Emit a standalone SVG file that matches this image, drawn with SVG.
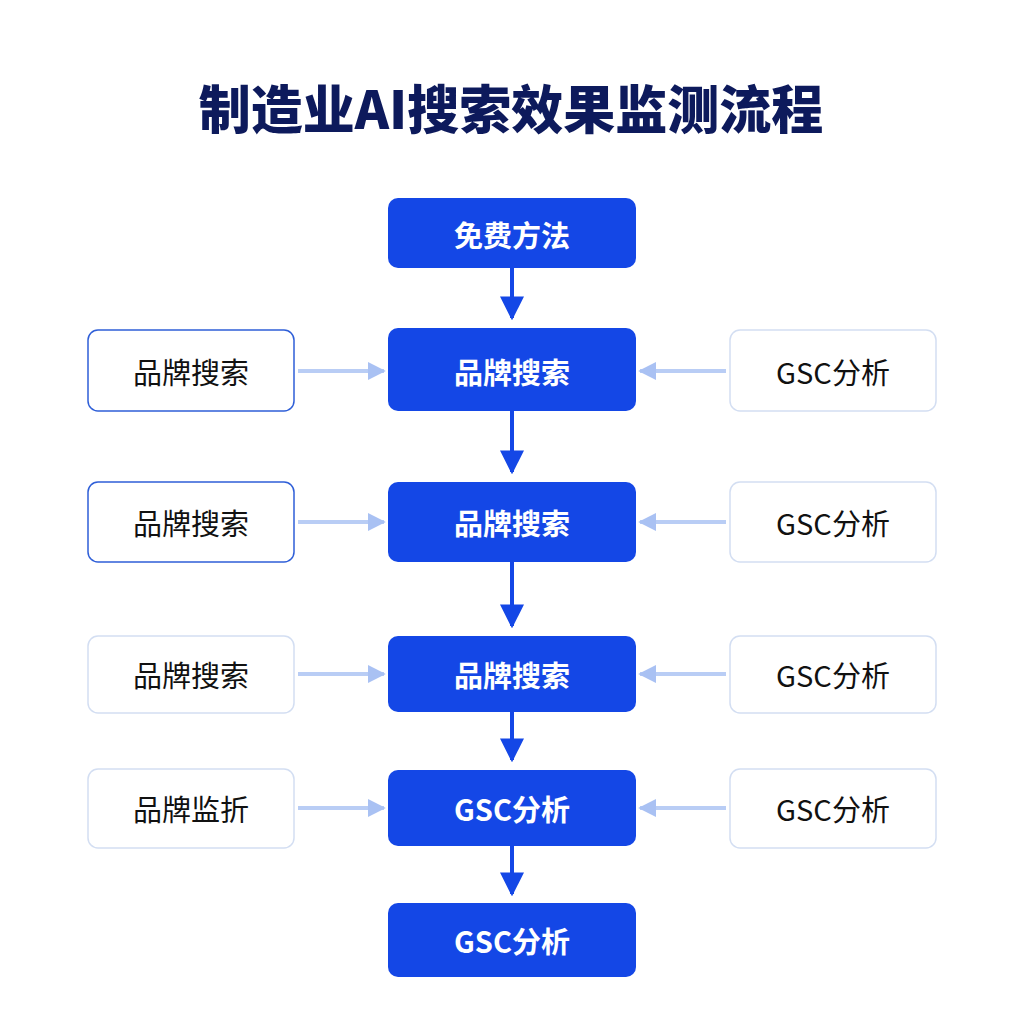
<svg xmlns="http://www.w3.org/2000/svg" width="1024" height="1024" viewBox="0 0 1024 1024">
<defs>
<style>
.c{fill:#1447e6;}
.s{fill:#fff;stroke:#d3def2;stroke-width:1.5;}
.sb{fill:#fff;stroke:#2f5fd8;stroke-width:1.5;}
.ct{font-family:"Noto Sans CJK SC","Noto Sans",sans-serif;font-weight:700;font-size:29px;fill:#fff;text-anchor:middle;dominant-baseline:central;}
.st{font-family:"Noto Sans CJK SC","Noto Sans",sans-serif;font-size:29px;fill:#111;text-anchor:middle;dominant-baseline:central;}
.v{stroke:#1447e6;stroke-width:4;fill:none;}
.h{stroke:#b9cdf5;stroke-width:4;fill:none;}
</style>
<marker id="av" viewBox="0 0 10 10" refX="9" refY="5" markerWidth="6" markerHeight="6" markerUnits="strokeWidth" orient="auto"><path d="M0,0L10,5L0,10z" fill="#1447e6"/></marker>
<marker id="ah" viewBox="0 0 10 10" refX="9" refY="5" markerWidth="4.5" markerHeight="4.5" markerUnits="strokeWidth" orient="auto"><path d="M0,0L10,5L0,10z" fill="#a9c1f3"/></marker>
</defs>
<rect width="1024" height="1024" fill="#fff"/>
<text x="511" y="106" font-family="Noto Sans CJK SC,sans-serif" font-weight="900" font-size="52" fill="#0d1a5c" text-anchor="middle" dominant-baseline="central">制造业AI搜索效果监测流程</text>
<g id="connectors">
<path class="v" d="M512 268V318" marker-end="url(#av)"/>
<path class="v" d="M512 411V472" marker-end="url(#av)"/>
<path class="v" d="M512 562V626" marker-end="url(#av)"/>
<path class="v" d="M512 712V760" marker-end="url(#av)"/>
<path class="v" d="M512 846V894" marker-end="url(#av)"/>
<path class="h" d="M298 371H384" marker-end="url(#ah)"/>
<path class="h" d="M298 522H384" marker-end="url(#ah)"/>
<path class="h" d="M298 674H384" marker-end="url(#ah)"/>
<path class="h" d="M298 808H384" marker-end="url(#ah)"/>
<path class="h" d="M726 371H640" marker-end="url(#ah)"/>
<path class="h" d="M726 522H640" marker-end="url(#ah)"/>
<path class="h" d="M726 674H640" marker-end="url(#ah)"/>
<path class="h" d="M726 808H640" marker-end="url(#ah)"/>
</g>
<g id="n1"><rect class="c" x="388" y="198" width="248" height="70" rx="10"/><text class="ct" x="512" y="234">免费方法</text></g>
<g id="n2"><rect class="c" x="388" y="328" width="248" height="83" rx="10"/><text class="ct" x="512" y="371">品牌搜索</text></g>
<g id="n3"><rect class="c" x="388" y="482" width="248" height="80" rx="10"/><text class="ct" x="512" y="522">品牌搜索</text></g>
<g id="n4"><rect class="c" x="388" y="636" width="248" height="76" rx="10"/><text class="ct" x="512" y="674">品牌搜索</text></g>
<g id="n5"><rect class="c" x="388" y="770" width="248" height="76" rx="10"/><text class="ct" x="512" y="808">GSC分析</text></g>
<g id="n6"><rect class="c" x="388" y="903" width="248" height="74" rx="10"/><text class="ct" x="512" y="940">GSC分析</text></g>
<g id="l2"><rect class="sb" x="88" y="330" width="206" height="81" rx="10"/><text class="st" x="191" y="371">品牌搜索</text></g>
<g id="l3"><rect class="sb" x="88" y="482" width="206" height="80" rx="10"/><text class="st" x="191" y="522">品牌搜索</text></g>
<g id="l4"><rect class="s" x="88" y="636" width="206" height="77" rx="10"/><text class="st" x="191" y="674">品牌搜索</text></g>
<g id="l5"><rect class="s" x="88" y="769" width="206" height="79" rx="10"/><text class="st" x="191" y="808">品牌监折</text></g>
<g id="r2"><rect class="s" x="730" y="330" width="206" height="81" rx="10"/><text class="st" x="833" y="371">GSC分析</text></g>
<g id="r3"><rect class="s" x="730" y="482" width="206" height="80" rx="10"/><text class="st" x="833" y="522">GSC分析</text></g>
<g id="r4"><rect class="s" x="730" y="636" width="206" height="77" rx="10"/><text class="st" x="833" y="674">GSC分析</text></g>
<g id="r5"><rect class="s" x="730" y="769" width="206" height="79" rx="10"/><text class="st" x="833" y="808">GSC分析</text></g>
</svg>
